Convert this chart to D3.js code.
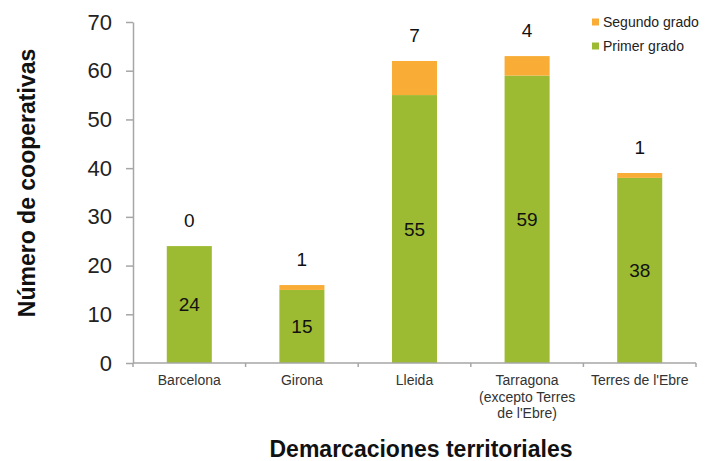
<!doctype html>
<html>
<head>
<meta charset="utf-8">
<script src="https://d3js.org/d3.v7.min.js"></script>
<style>
body { margin: 0; background: #fff; }
svg text { font-family: "Liberation Sans", Arial, Helvetica, sans-serif; }
</style>
</head>
<body>
<svg width="714" height="461" class="chart"></svg>
<script>
// data
var categories = ["Barcelona", "Girona", "Lleida", "Tarragona (excepto Terres de l'Ebre)", "Terres de l'Ebre"];
var catLines = [["Barcelona"], ["Girona"], ["Lleida"], ["Tarragona", "(excepto Terres", "de l'Ebre)"], ["Terres de l'Ebre"]];
var primer = [24, 15, 55, 59, 38];
var segundo = [0, 1, 7, 4, 1];
var yTicks = [0, 10, 20, 30, 40, 50, 60, 70];
var seriesNames = ["Segundo grado", "Primer grado"];

var green = "#9dbb32", orange = "#f9ac36", axisCol = "#a6a6a6";

var svg = d3.select(".chart");

var x = d3.scaleBand().domain(categories).range([133, 696]).paddingInner(0.6).paddingOuter(0.3);
var y = d3.scaleLinear().domain([0, 70]).range([363, 22]);

var rows = categories.map(function(c, i) { return {cat: c, p: primer[i], s: segundo[i]}; });

// green part
svg.append("g").selectAll("rect")
  .data(rows).enter().append("rect")
  .attr("x", function(d) { return x(d.cat); })
  .attr("y", function(d) { return y(d.p); })
  .attr("width", x.bandwidth())
  .attr("height", function(d) { return y(0) - y(d.p); })
  .style("fill", green);

// orange part on top
svg.append("g").selectAll("rect")
  .data(rows).enter().append("rect")
  .attr("x", function(d) { return x(d.cat); })
  .attr("y", function(d) { return y(d.p + d.s); })
  .attr("width", x.bandwidth())
  .attr("height", function(d) { return y(d.p) - y(d.p + d.s); })
  .style("fill", orange);

// y axis
var yAxis = svg.append("g")
  .attr("transform", "translate(133,0)")
  .call(d3.axisLeft(y).tickValues(yTicks).tickSize(7).tickSizeOuter(0).tickPadding(14));
yAxis.select(".domain").attr("stroke", axisCol).attr("stroke-width", 1.5);
yAxis.selectAll(".tick line").attr("stroke", axisCol).attr("stroke-width", 1.5);
yAxis.selectAll(".tick text")
  .style("font-size", "22px")
  .attr("fill", "#222");

// x axis: line with ticks at the band edges
var x0 = x.range()[0], step = x.step();
svg.append("line")
  .attr("x1", x0).attr("x2", x.range()[1])
  .attr("y1", y(0)).attr("y2", y(0))
  .attr("stroke", axisCol).attr("stroke-width", 1.5);
svg.append("g").selectAll("line")
  .data(d3.range(categories.length + 1)).enter().append("line")
  .attr("x1", function(i) { return x0 + i * step; })
  .attr("x2", function(i) { return x0 + i * step; })
  .attr("y1", y(0)).attr("y2", y(0) + 4)
  .attr("stroke", axisCol).attr("stroke-width", 1.5);

// category labels
svg.append("g").selectAll("text")
  .data(rows).enter().append("text")
  .attr("x", function(d) { return x(d.cat) + x.bandwidth() / 2; })
  .attr("y", 385)
  .attr("text-anchor", "middle")
  .style("font-size", "14px")
  .attr("fill", "#333")
  .each(function(d, i) {
    var t = d3.select(this);
    catLines[i].forEach(function(line, j) {
      t.append("tspan")
        .attr("x", x(d.cat) + x.bandwidth() / 2)
        .attr("dy", j == 0 ? 0 : 16.5)
        .text(line);
    });
  });

// value labels inside green bars
svg.append("g").selectAll("text")
  .data(rows).enter().append("text")
  .attr("x", function(d) { return x(d.cat) + x.bandwidth() / 2; })
  .attr("y", function(d) { return (y(0) + y(d.p)) / 2; })
  .attr("dy", "0.35em")
  .attr("text-anchor", "middle")
  .style("font-size", "19px")
  .attr("fill", "#111")
  .text(function(d) { return d.p; });

// segundo grado labels above the bars
svg.append("g").selectAll("text")
  .data(rows).enter().append("text")
  .attr("x", function(d) { return x(d.cat) + x.bandwidth() / 2; })
  .attr("y", function(d) { return y(d.p + d.s) - 26; })
  .attr("dy", "0.35em")
  .attr("text-anchor", "middle")
  .style("font-size", "19px")
  .attr("fill", "#111")
  .text(function(d) { return d.s; });

// legend
var legend = svg.append("g").selectAll("g")
  .data(seriesNames).enter().append("g")
  .attr("transform", function(d, i) { return "translate(592," + (22 + i * 24) + ")"; });
legend.append("rect")
  .attr("x", 0).attr("y", -3.5)
  .attr("width", 7).attr("height", 7)
  .style("fill", function(d, i) { return i == 0 ? orange : green; });
legend.append("text")
  .attr("x", 11).attr("y", 0)
  .attr("dy", "0.35em")
  .style("font-size", "14px")
  .attr("fill", "#222")
  .text(function(d) { return d; });

// axis titles
svg.append("text")
  .attr("transform", "translate(35,183) rotate(-90)")
  .attr("text-anchor", "middle")
  .style("font-size", "23px")
  .style("font-weight", "bold")
  .attr("fill", "#111")
  .text("Número de cooperativas");

svg.append("text")
  .attr("x", 421).attr("y", 457)
  .attr("text-anchor", "middle")
  .style("font-size", "23px")
  .style("font-weight", "bold")
  .attr("fill", "#111")
  .text("Demarcaciones territoriales");
</script>
</body>
</html>
